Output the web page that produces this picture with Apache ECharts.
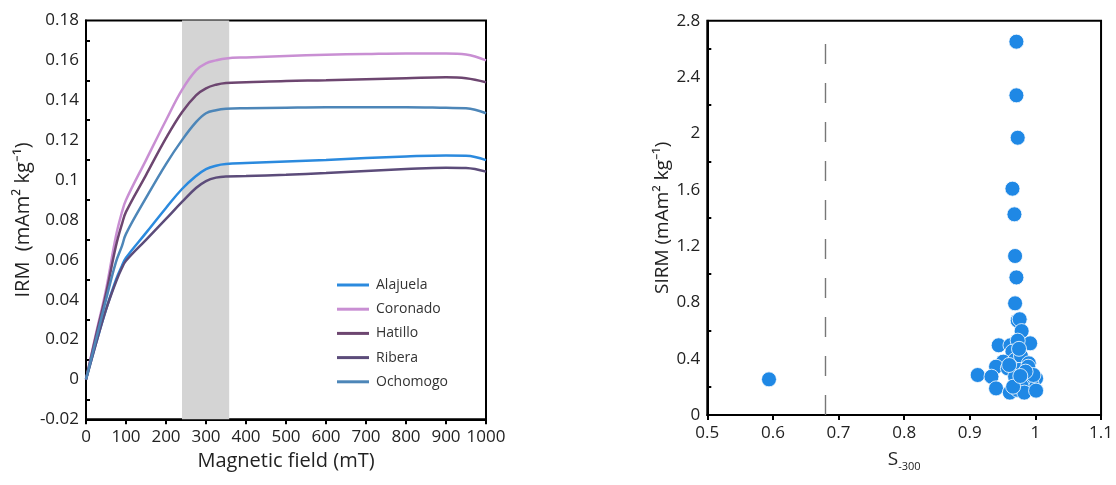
<!DOCTYPE html>
<html>
<head>
<meta charset="utf-8">
<script src="https://cdn.jsdelivr.net/npm/echarts@6/dist/echarts.min.js"></script>
<style>
html,body{margin:0;padding:0;background:#fff;}
#c{width:1116px;height:485px;}
</style>
</head>
<body>
<div id="c"></div>
<script>
// ---------- Left panel: IRM acquisition curves ----------
const field = [0, 25, 50, 75, 90, 100, 150, 200, 240, 275, 300, 325, 350, 400, 500, 600, 700, 800, 900, 950, 1000];
const alajuela = [0, 0.018, 0.035, 0.050, 0.057, 0.061, 0.0735, 0.0860, 0.0955, 0.1020, 0.1055, 0.1072, 0.1080, 0.1085, 0.1093, 0.1100, 0.1110, 0.1118, 0.1123, 0.1122, 0.1100];
const coronado = [0, 0.023, 0.045, 0.072, 0.084, 0.090, 0.110, 0.130, 0.1452, 0.1550, 0.1585, 0.1600, 0.1610, 0.1615, 0.1622, 0.1628, 0.1632, 0.1635, 0.1635, 0.1630, 0.1600];
const hatillo  = [0, 0.022, 0.043, 0.067, 0.078, 0.084, 0.1025, 0.1210, 0.1340, 0.1425, 0.1460, 0.1478, 0.1487, 0.1490, 0.1497, 0.1500, 0.1505, 0.1510, 0.1515, 0.1510, 0.1490];
const ribera   = [0, 0.018, 0.035, 0.049, 0.056, 0.0595, 0.0700, 0.0805, 0.0890, 0.0960, 0.0995, 0.1012, 0.1018, 0.1020, 0.1027, 0.1035, 0.1045, 0.1055, 0.1062, 0.1060, 0.1042];
const ochomogo = [0, 0.020, 0.040, 0.059, 0.067, 0.073, 0.0910, 0.1080, 0.1200, 0.1290, 0.1335, 0.1350, 0.1357, 0.1360, 0.1363, 0.1365, 0.1365, 0.1365, 0.1362, 0.1360, 0.1335];
const bandRange = [240, 358];
const leftYLabels = [-0.02, 0, 0.02, 0.04, 0.06, 0.08, 0.1, 0.12, 0.14, 0.16, 0.18];
const leftYMinorTicks = [-0.01, 0.01, 0.03, 0.05, 0.07, 0.09, 0.11, 0.13, 0.15, 0.17];
const leftXLabels = [0, 100, 200, 300, 400, 500, 600, 700, 800, 900, 1000];

// ---------- Right panel: SIRM vs S-300 ----------
const s300 = [0.594, 0.971, 0.971, 0.973, 0.965, 0.968, 0.969, 0.971, 0.969, 0.973, 0.976, 0.979, 0.992, 0.944, 0.962, 0.973, 0.965, 0.951, 0.940, 0.958, 0.969, 0.978, 0.990, 0.912, 0.933, 0.975, 0.989, 1.001, 0.994, 0.981, 0.969, 0.940, 0.961, 0.973, 0.979, 0.983, 1.001, 0.966, 0.997, 0.960, 0.985, 0.977, 0.975];
const sirm = [0.253, 2.651, 2.270, 1.969, 1.607, 1.425, 1.129, 0.977, 0.793, 0.670, 0.680, 0.596, 0.509, 0.495, 0.495, 0.528, 0.450, 0.379, 0.343, 0.331, 0.391, 0.419, 0.367, 0.284, 0.272, 0.320, 0.343, 0.260, 0.225, 0.249, 0.272, 0.189, 0.159, 0.178, 0.206, 0.159, 0.173, 0.201, 0.284, 0.355, 0.308, 0.277, 0.470];
const thresholdS = 0.68;
const thresholdTop = 2.65;
const rightYLabels = [0, 0.4, 0.8, 1.2, 1.6, 2, 2.4, 2.8];
const rightYMinorTicks = [0.2, 0.6, 1.0, 1.4, 1.8, 2.2, 2.6];
const rightXLabels = [0.5, 0.6, 0.7, 0.8, 0.9, 1, 1.1];

const FONT = '"Open Sans", sans-serif';
const seriesNames = ['Alajuela', 'Coronado', 'Hatillo', 'Ribera', 'Ochomogo'];
const seriesData = [alajuela, coronado, hatillo, ribera, ochomogo];
const seriesColors = ['#2b8ade', '#c98fd3', '#6d4670', '#5c4c7a', '#4d86b8'];

const chart = echarts.init(document.getElementById('c'), null, {renderer: 'canvas'});

const lineSeries = seriesNames.map((n, i) => ({
  name: n,
  type: 'line',
  xAxisIndex: 0, yAxisIndex: 0,
  data: field.map((f, k) => [f, seriesData[i][k]]),
  smooth: 0.4,
  showSymbol: false,
  symbol: 'none',
  lineStyle: {color: seriesColors[i], width: 2.5},
  itemStyle: {color: seriesColors[i]},
  z: 3
}));
lineSeries[0].markArea = {
  silent: true,
  itemStyle: {color: '#d4d4d4'},
  data: [[{xAxis: bandRange[0]}, {xAxis: bandRange[1]}]],
  z: 1
};

const axisLineStyle = {show: true, onZero: false, lineStyle: {color: '#000', width: 2}};
const labelStyle = {color: '#222', fontSize: 17, fontFamily: FONT, formatter: v => String(v)};

chart.setOption({
  animation: false,
  backgroundColor: '#fff',
  legend: {
    data: seriesNames,
    orient: 'vertical',
    left: 332, top: 273,
    icon: 'rect',
    itemWidth: 32, itemHeight: 3,
    itemGap: 10.2,
    textStyle: {fontFamily: FONT, fontSize: 14, color: '#333', lineHeight: 14, padding: [0, 0, 0, 2]}
  },
  grid: [
    {left: 86, right: 630, top: 20.5, bottom: 65.7, show: true, borderColor: '#000', borderWidth: 2, backgroundColor: 'transparent'},
    {left: 707.3, right: 14.3, top: 20.7, bottom: 70, show: true, borderColor: '#000', borderWidth: 2, backgroundColor: 'transparent'}
  ],
  xAxis: [
    {
      type: 'value', gridIndex: 0, min: 0, max: 1000, interval: 100,
      name: 'Magnetic field (mT)', nameLocation: 'middle', nameGap: 32,
      nameTextStyle: {fontFamily: FONT, fontSize: 20, color: '#222'},
      axisLine: axisLineStyle,
      axisTick: {show: true, inside: false, length: 5, lineStyle: {color: '#000', width: 2}, customValues: leftXLabels},
      axisLabel: Object.assign({margin: 9, customValues: leftXLabels}, labelStyle),
      splitLine: {show: false}
    },
    {
      type: 'value', gridIndex: 1, min: 0.5, max: 1.1, interval: 0.1,
      name: '{s|S}{sub|-300}', nameLocation: 'middle', nameGap: 33,
      nameTextStyle: {fontFamily: FONT, fontSize: 19, color: '#222',
        rich: {s: {fontFamily: FONT, fontSize: 19, color: '#222'}, sub: {fontFamily: FONT, fontSize: 11, color: '#222', verticalAlign: 'bottom', padding: [13, 0, 0, 0]}}},
      axisLine: axisLineStyle,
      axisTick: {show: true, inside: false, length: 5, lineStyle: {color: '#000', width: 2}, customValues: rightXLabels},
      axisLabel: Object.assign({margin: 10, customValues: rightXLabels}, labelStyle),
      splitLine: {show: false}
    }
  ],
  yAxis: [
    {
      type: 'value', gridIndex: 0, min: -0.02, max: 0.18, interval: 0.02,
      name: 'IRM  (mAm\u00B2 kg\u207B\u00B9)', nameLocation: 'middle', nameGap: 53,
      nameTextStyle: {fontFamily: FONT, fontSize: 20, color: '#222'},
      axisLine: axisLineStyle,
      axisTick: {show: true, inside: true, length: 4, lineStyle: {color: '#000', width: 2}, customValues: leftYMinorTicks},
      axisLabel: Object.assign({margin: 7, customValues: leftYLabels}, labelStyle),
      splitLine: {show: false}
    },
    {
      type: 'value', gridIndex: 1, min: 0, max: 2.8, interval: 0.4,
      name: 'SIRM (mAm\u00B2 kg\u207B\u00B9)', nameLocation: 'middle', nameGap: 35,
      nameTextStyle: {fontFamily: FONT, fontSize: 19, color: '#222'},
      axisLine: axisLineStyle,
      axisTick: {show: true, inside: true, length: 4, lineStyle: {color: '#000', width: 2}, customValues: rightYMinorTicks},
      axisLabel: Object.assign({margin: 7, customValues: rightYLabels}, labelStyle),
      splitLine: {show: false}
    }
  ],
  series: lineSeries.concat([{
    name: 'SIRM',
    type: 'scatter',
    xAxisIndex: 1, yAxisIndex: 1,
    data: s300.map((s, i) => [s, sirm[i]]),
    symbolSize: 15,
    itemStyle: {color: '#1f88e5', borderColor: '#ffffff', borderWidth: 0.8, opacity: 1},
    z: 3,
    markLine: {
      silent: true,
      symbol: 'none',
      label: {show: false},
      lineStyle: {color: '#777', width: 1.4, type: [20, 19]},
      data: [[{coord: [thresholdS, 0]}, {coord: [thresholdS, thresholdTop]}]]
    }
  }])
});
</script>
</body>
</html>
